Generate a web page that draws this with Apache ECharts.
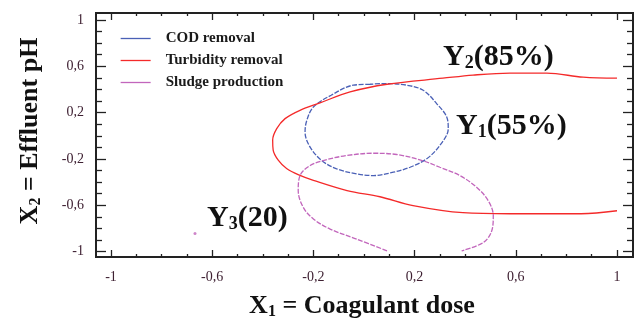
<!DOCTYPE html>
<html>
<head>
<meta charset="utf-8">
<script src="https://cdn.jsdelivr.net/npm/echarts@6/dist/echarts.min.js"></script>
<style>html,body{margin:0;padding:0;background:#fff}#c{width:638px;height:320px}</style>
</head>
<body>
<div id="c"></div>
<script>
// ---- data (x1 = coagulant dose, x2 = effluent pH, coded units)
const seriesNames = ['COD removal', 'Turbidity removal', 'Sludge production'];
const codRemoval = [
  [0.024,0.445],[-0.042,0.437],[-0.130,0.350],[-0.200,0.248],[-0.226,0.133],[-0.233,0.032],
  [-0.213,-0.098],[-0.167,-0.214],[-0.108,-0.286],[-0.029,-0.329],[0.037,-0.344],[0.116,-0.315],
  [0.182,-0.272],[0.248,-0.199],[0.300,-0.083],[0.333,0.061],[0.327,0.162],[0.287,0.278],
  [0.234,0.393],[0.169,0.437],[0.090,0.451],[0.024,0.445]
];
const turbidityRemoval = [
  [1.0,0.497],[0.866,0.506],[0.723,0.541],[0.577,0.541],[0.431,0.524],[0.312,0.497],
  [0.091,0.445],[-0.055,0.379],[-0.174,0.284],[-0.253,0.220],[-0.312,0.148],[-0.345,0.061],
  [-0.361,-0.037],[-0.359,-0.124],[-0.339,-0.211],[-0.306,-0.283],[-0.253,-0.343],[-0.200,-0.386],
  [-0.067,-0.474],[0.063,-0.527],[0.194,-0.604],[0.391,-0.665],[0.577,-0.674],[0.858,-0.674],[1.0,-0.648]
];
const sludgeProduction = [
  [0.091,-0.994],[-0.029,-0.893],[-0.134,-0.806],[-0.200,-0.719],[-0.240,-0.619],[-0.260,-0.474],
  [-0.253,-0.344],[-0.213,-0.257],[-0.161,-0.214],[-0.069,-0.171],[0.037,-0.151],[0.129,-0.162],
  [0.221,-0.208],[0.300,-0.272],[0.379,-0.344],[0.445,-0.445],[0.491,-0.561],[0.511,-0.691],
  [0.505,-0.821],[0.472,-0.922],[0.386,-0.994]
];
const sludgeDot = [[-0.668,-0.844]];
const tickLabelsX = ['-1','-0,6','-0,2','0,2','0,6','1'];
const tickLabelsY = ['-1','-0,6','-0,2','0,2','0,6','1'];
const axisMin = -1, axisMax = 1, axisStep = 0.4;

const SERIF = '"Liberation Serif", "Times New Roman", serif';
const colors = ['#4a60b6', '#f42a2a', '#c266bc'];
const labelColor = '#3e2032';

function fmt(labels) {
  return function (v) {
    const i = Math.round((v - axisMin) / axisStep);
    return labels[i] !== undefined ? labels[i] : '';
  };
}
function mkX(pos, off, showLabel) {
  return {
    type: 'value', min: axisMin, max: axisMax, interval: axisStep, position: pos, offset: off,
    axisLine: { show: false, onZero: false },
    axisTick: { show: true, inside: true, length: 7, lineStyle: { color: '#222', width: 1.3 } },
    minorTick: { show: true, splitNumber: 4, length: 3, lineStyle: { color: '#222', width: 1.3 } },
    splitLine: { show: false }, minorSplitLine: { show: false },
    axisLabel: { show: showLabel, formatter: fmt(tickLabelsX), margin: 13, fontFamily: SERIF, fontSize: 14, color: labelColor }
  };
}
function mkY(pos, off, showLabel) {
  return {
    type: 'value', min: axisMin, max: axisMax, interval: axisStep, position: pos, offset: off,
    axisLine: { show: false, onZero: false },
    axisTick: { show: true, inside: true, length: 10, lineStyle: { color: '#222', width: 1.3 } },
    minorTick: { show: true, splitNumber: 4, length: 6, lineStyle: { color: '#222', width: 1.3 } },
    splitLine: { show: false }, minorSplitLine: { show: false },
    axisLabel: { show: showLabel, formatter: fmt(tickLabelsY), margin: 12, fontFamily: SERIF, fontSize: 14, color: labelColor }
  };
}
function richText(main, sub, rest, size, subSize) {
  return {
    text: '{m|' + main + '}{s|' + sub + '}{m|' + rest + '}',
    rich: {
      m: { fontFamily: SERIF, fontWeight: 'bold', fontSize: size, fill: '#111', verticalAlign: 'bottom', lineHeight: size * 1.2 },
      s: { fontFamily: SERIF, fontWeight: 'bold', fontSize: subSize, fill: '#111', verticalAlign: 'bottom', lineHeight: size * 1.2 }
    }
  };
}

const chart = echarts.init(document.getElementById('c'), null, { renderer: 'canvas' });
const lineSeries = (name, data, color, dash) => ({
  name, type: 'line', data, symbol: 'none', smooth: 0.35, xAxisIndex: 0, yAxisIndex: 0,
  lineStyle: { color, width: 1.3, type: dash }, itemStyle: { color }, z: 3, animation: false
});
chart.setOption({
  animation: false,
  grid: { left: 111, right: 21, top: 20, bottom: 68.5 },
  xAxis: [mkX('bottom', 5.5, true), mkX('top', 7, false)],
  yAxis: [mkY('left', 15, true), mkY('right', 16, false)],
  legend: {
    data: seriesNames, orient: 'vertical', left: 120, top: 31, padding: 0,
    itemWidth: 30, itemHeight: 14, itemGap: 7,
    itemStyle: { opacity: 0 },
    lineStyle: { type: 'solid', width: 1.3 },
    textStyle: { fontFamily: SERIF, fontSize: 15, fontWeight: 'bold', color: '#1a1a1a', padding: [0, 0, 0, 10] }
  },
  series: [
    lineSeries(seriesNames[0], codRemoval, colors[0], [5, 1.5]),
    lineSeries(seriesNames[1], turbidityRemoval, colors[1], 'solid'),
    lineSeries(seriesNames[2], sludgeProduction, colors[2], [5, 1.5]),
    { name: 'Y3 point', type: 'scatter', data: sludgeDot, symbolSize: 3, itemStyle: { color: colors[2] }, animation: false }
  ],
  graphic: [
    { type: 'rect', shape: { x: 96, y: 13, width: 537, height: 244 }, style: { fill: 'none', stroke: '#222', lineWidth: 2 }, z: 10 },
    { type: 'text', x: 443, y: 54, style: Object.assign(richText('Y', '2', '(85%)', 30, 18), { align: 'left', verticalAlign: 'middle' }), z: 10 },
    { type: 'text', x: 456, y: 123, style: Object.assign(richText('Y', '1', '(55%)', 30, 18), { align: 'left', verticalAlign: 'middle' }), z: 10 },
    { type: 'text', x: 207, y: 215, style: Object.assign(richText('Y', '3', '(20)', 30, 18), { align: 'left', verticalAlign: 'middle' }), z: 10 },
    { type: 'text', x: 362, y: 304, style: Object.assign(richText('X', '1', ' = Coagulant dose', 26, 16), { align: 'center', verticalAlign: 'middle' }), z: 10 },
    { type: 'text', x: 28, y: 131, rotation: Math.PI / 2, style: Object.assign(richText('X', '2', ' = Effluent pH', 26, 16), { align: 'center', verticalAlign: 'middle' }), z: 10 }
  ]
});
</script>
</body>
</html>
